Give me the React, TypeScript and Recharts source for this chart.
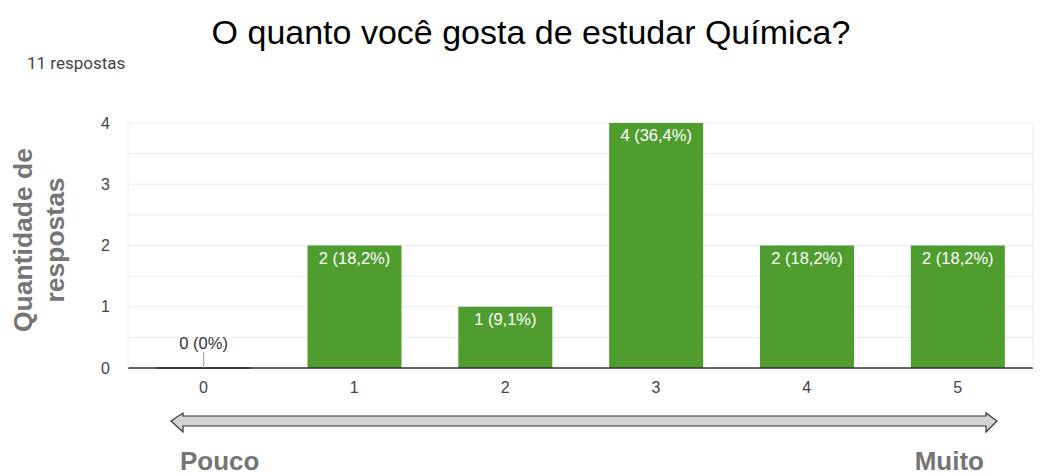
import React from "react";
import {
  BarChart,
  Bar,
  XAxis,
  YAxis,
  CartesianGrid,
  LabelList,
} from "recharts";

const categories = ["0", "1", "2", "3", "4", "5"];
const counts = [0, 2, 1, 4, 2, 2];
const barLabels = ["0 (0%)", "2 (18,2%)", "1 (9,1%)", "4 (36,4%)", "2 (18,2%)", "2 (18,2%)"];
const yTicks = [0, 0.5, 1, 1.5, 2, 2.5, 3, 3.5, 4];

const data = categories.map((c, i) => ({ cat: c, count: counts[i] }));

const GREEN = "#4f9d2f";
const GRAY = "#757575";
const FONT = "Arial, 'Liberation Sans', sans-serif";

const BarShape = (props: any) => {
  const { x, y, width, height, payload } = props;
  if (!payload || payload.count === 0) {
    return <line x1={x} x2={x + width} y1={y + (height || 0)} y2={y + (height || 0)} stroke="#444" strokeWidth={2} />;
  }
  return <rect x={x} y={y} width={width} height={height} fill={GREEN} />;
};

const BarLabel = (props: any) => {
  const { x, y, width, index, value } = props;
  const cx = x + width / 2;
  if (value === 0) {
    return (
      <g>
        <line x1={cx} x2={cx} y1={y - 16} y2={y} stroke="#999" strokeWidth={1} />
        <text x={cx} y={y - 19} textAnchor="middle" fontSize={16.5} fill="#333" fontFamily={FONT}>
          {barLabels[index]}
        </text>
      </g>
    );
  }
  return (
    <text x={cx} y={y + 18} textAnchor="middle" fontSize={16.5} fill="#fff" fontFamily={FONT}>
      {barLabels[index]}
    </text>
  );
};

export default function App() {
  return (
    <div style={{ position: "absolute", left: 0, top: 0, width: 1043, height: 475, background: "#fff", fontFamily: FONT }}>
      <BarChart
        width={1043}
        height={475}
        data={data}
        margin={{ top: 123, right: 0, bottom: 77, left: 0 }}
        barCategoryGap="19%"
      >
        <CartesianGrid vertical={false} stroke="#ebebeb" />
        <XAxis
          dataKey="cat"
          axisLine={{ stroke: "#333", strokeWidth: 1.5 }}
          tickLine={false}
          tickSize={0}
          tickMargin={14}
          height={30}
          tick={{ fontSize: 16, fill: "#444", fontFamily: FONT }}
        />
        <YAxis
          width={128}
          domain={[0, 4]}
          ticks={yTicks}
          interval={0}
          tickLine={false}
          tickSize={0}
          tickMargin={18}
          axisLine={{ stroke: "#ebebeb" }}
          tickFormatter={(v: number) => (Number.isInteger(v) ? String(v) : "")}
          tick={{ fontSize: 16, fill: "#444", fontFamily: FONT }}
        />
        <YAxis
          yAxisId="right"
          orientation="right"
          width={10}
          domain={[0, 4]}
          tick={false}
          tickLine={false}
          axisLine={{ stroke: "#ebebeb" }}
        />
        <Bar dataKey="count" fill={GREEN} isAnimationActive={false} shape={BarShape}>
          <LabelList dataKey="count" content={BarLabel} />
        </Bar>
      </BarChart>
      <svg width={1043} height={475} style={{ position: "absolute", left: 0, top: 0, pointerEvents: "none" }}>
        <text x={531} y={44} textAnchor="middle" fontSize={34} fill="#000" fontFamily={FONT}>
          O quanto você gosta de estudar Química?
        </text>
        <text x={27} y={69} fontSize={17} fill="#444" fontFamily="Roboto, sans-serif">
          11 respostas
        </text>
        <g transform="translate(0,240) rotate(-90)" fontFamily={FONT} fontWeight="bold" fontSize={26.5} fill={GRAY} textAnchor="middle">
          <text x={0} y={32}>Quantidade de</text>
          <text x={0} y={64}>respostas</text>
        </g>
        <path
          d="M171,421 L183,413 L183,416 L986,416 L986,413 L997,421 L986,432 L986,426 L183,426 L183,432 Z"
          fill="#d3d3d3"
          stroke="#333"
          strokeWidth={1.2}
          strokeLinejoin="miter"
        />
        <text x={180} y={470} fontSize={26} fontWeight="bold" fill={GRAY} fontFamily={FONT}>
          Pouco
        </text>
        <text x={984} y={470} textAnchor="end" fontSize={26} fontWeight="bold" fill={GRAY} fontFamily={FONT}>
          Muito
        </text>
      </svg>
    </div>
  );
}
